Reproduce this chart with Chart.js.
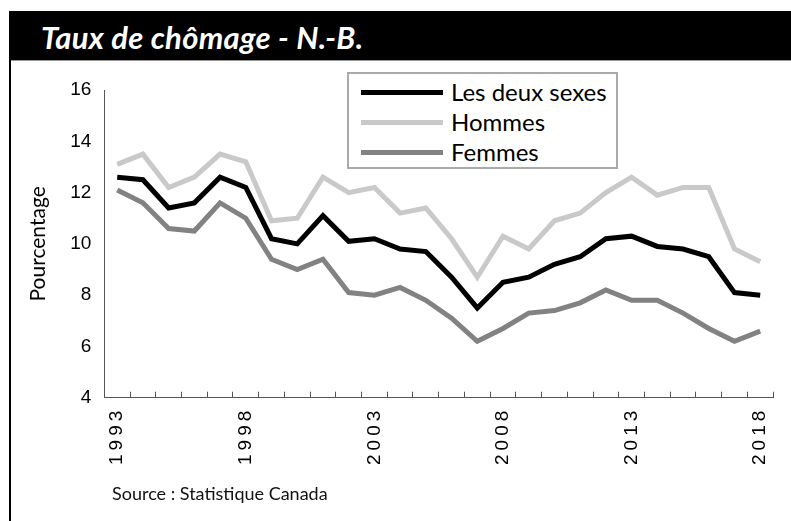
<!DOCTYPE html>
<html>
<head>
<meta charset="utf-8">
<script src="https://cdn.jsdelivr.net/npm/chart.js@4/dist/chart.umd.min.js"></script>
<style>
  body { margin: 0; background: #fff; }
  #wrap { position: relative; width: 791px; height: 521px; overflow: hidden; }
  #chart { position: absolute; left: 0; top: 0; }
  .titlebar { position: absolute; left: 9px; top: 11px; width: 782px; height: 49px; background: #000; }
  .titlebar span { position: absolute; left: 32px; top: 7px; color: #fff; font: italic bold 31px "Lato", sans-serif; letter-spacing: 0.3px; }
  .underline { position: absolute; left: 9px; top: 60px; width: 782px; height: 1px; background: #999; }
  .leftborder { position: absolute; left: 9px; top: 60px; width: 2px; height: 461px; background: #000; }
  .source { position: absolute; left: 112px; top: 482px; font: 18px "Lato", sans-serif; color: #111; }
  #legend { position: absolute; left: 347px; top: 72px; width: 267px; height: 93px; border: 2px solid #aaa; background: #fff; }
  #legend .item { position: absolute; left: 12px; height: 30px; }
  #legend .swatch { position: absolute; left: 0; top: 12px; width: 82px; height: 5px; }
  #legend .lbl { position: absolute; left: 90px; top: -1px; white-space: nowrap; font: 24px "Lato", sans-serif; color: #000; }
</style>
</head>
<body>
<div id="wrap">
  <canvas id="chart" width="798" height="521"></canvas>
  <div class="titlebar"><span>Taux de chômage - N.-B.</span></div>
  <div class="underline"></div>
  <div class="leftborder"></div>
  <div id="legend"></div>
  <div class="source">Source : Statistique Canada</div>
</div>
<script>
//! data
var years = ['1993','1994','1995','1996','1997','1998','1999','2000','2001','2002','2003','2004','2005',
             '2006','2007','2008','2009','2010','2011','2012','2013','2014','2015','2016','2017','2018'];
var lesDeux = [12.6,12.5,11.4,11.6,12.6,12.2,10.2,10.0,11.1,10.1,10.2,9.8,9.7,8.7,7.5,8.5,8.7,9.2,9.5,10.2,10.3,9.9,9.8,9.5,8.1,8.0];
var hommes  = [13.1,13.5,12.2,12.6,13.5,13.2,10.9,11.0,12.6,12.0,12.2,11.2,11.4,10.2,8.7,10.3,9.8,10.9,11.2,12.0,12.6,11.9,12.2,12.2,9.8,9.3];
var femmes  = [12.1,11.6,10.6,10.5,11.6,11.0,9.4,9.0,9.4,8.1,8.0,8.3,7.8,7.1,6.2,6.7,7.3,7.4,7.7,8.2,7.8,7.8,7.3,6.7,6.2,6.6];
var shownYears = ['1993','1998','2003','2008','2013','2018'];

// category axis with spaced-out labels
class SpacedCategory extends Chart.CategoryScale {
    drawLabels(area) {
        this.ctx.save();
        this.ctx.letterSpacing = '4px';
        super.drawLabels(area);
        this.ctx.restore();
    }
}
SpacedCategory.id = 'spacedCategory';
SpacedCategory.defaults = Chart.CategoryScale.defaults;
Chart.register(SpacedCategory);

function line(label, data, color) {
    return { label: label, data: data, borderColor: color, backgroundColor: color,
             borderWidth: 5, pointRadius: 0, tension: 0, borderJoinStyle: 'miter' };
}

var chart = new Chart(document.getElementById('chart'), {
    type: 'line',
    data: {
        labels: years,
        datasets: [
            line('Les deux sexes', lesDeux, '#000000'),
            line('Hommes', hommes, '#c9c9c9'),
            line('Femmes', femmes, '#828282')
        ]
    },
    options: {
        responsive: false,
        animation: false,
        layout: { padding: { left: 22, top: 90, right: 0, bottom: 57 } },
        plugins: { legend: { display: false }, tooltip: { enabled: false } },
        scales: {
            x: {
                type: 'spacedCategory',
                offset: true,
                grid: { offset: true, drawOnChartArea: false, drawTicks: true, tickLength: -6, color: '#555', lineWidth: 1 },
                border: { color: '#555', width: 1 },
                ticks: {
                    autoSkip: false, maxRotation: 90, minRotation: 90, padding: 15,
                    color: '#000', font: { family: 'Liberation Sans', size: 19 },
                    callback: function (v, i) { var y = years[i]; return shownYears.indexOf(y) >= 0 ? y : ''; }
                }
            },
            y: {
                min: 4, max: 16,
                grid: { display: false },
                border: { color: '#555', width: 1 },
                ticks: { stepSize: 2, padding: 5, color: '#000', font: { family: 'Liberation Sans', size: 19 } },
                title: { display: true, text: 'Pourcentage', color: '#000', font: { family: 'Lato', size: 21 }, padding: { bottom: 14 } }
            }
        }
    }
});

// legend built from the datasets
var legend = document.getElementById('legend');
chart.data.datasets.forEach(function (ds, i) {
    var item = document.createElement('div');
    item.className = 'item';
    item.style.top = (4 + i * 30) + 'px';
    item.innerHTML = '<div class="swatch" style="background:' + ds.borderColor + '"></div><div class="lbl">' + ds.label + '</div>';
    legend.appendChild(item);
});
</script>
</body>
</html>
